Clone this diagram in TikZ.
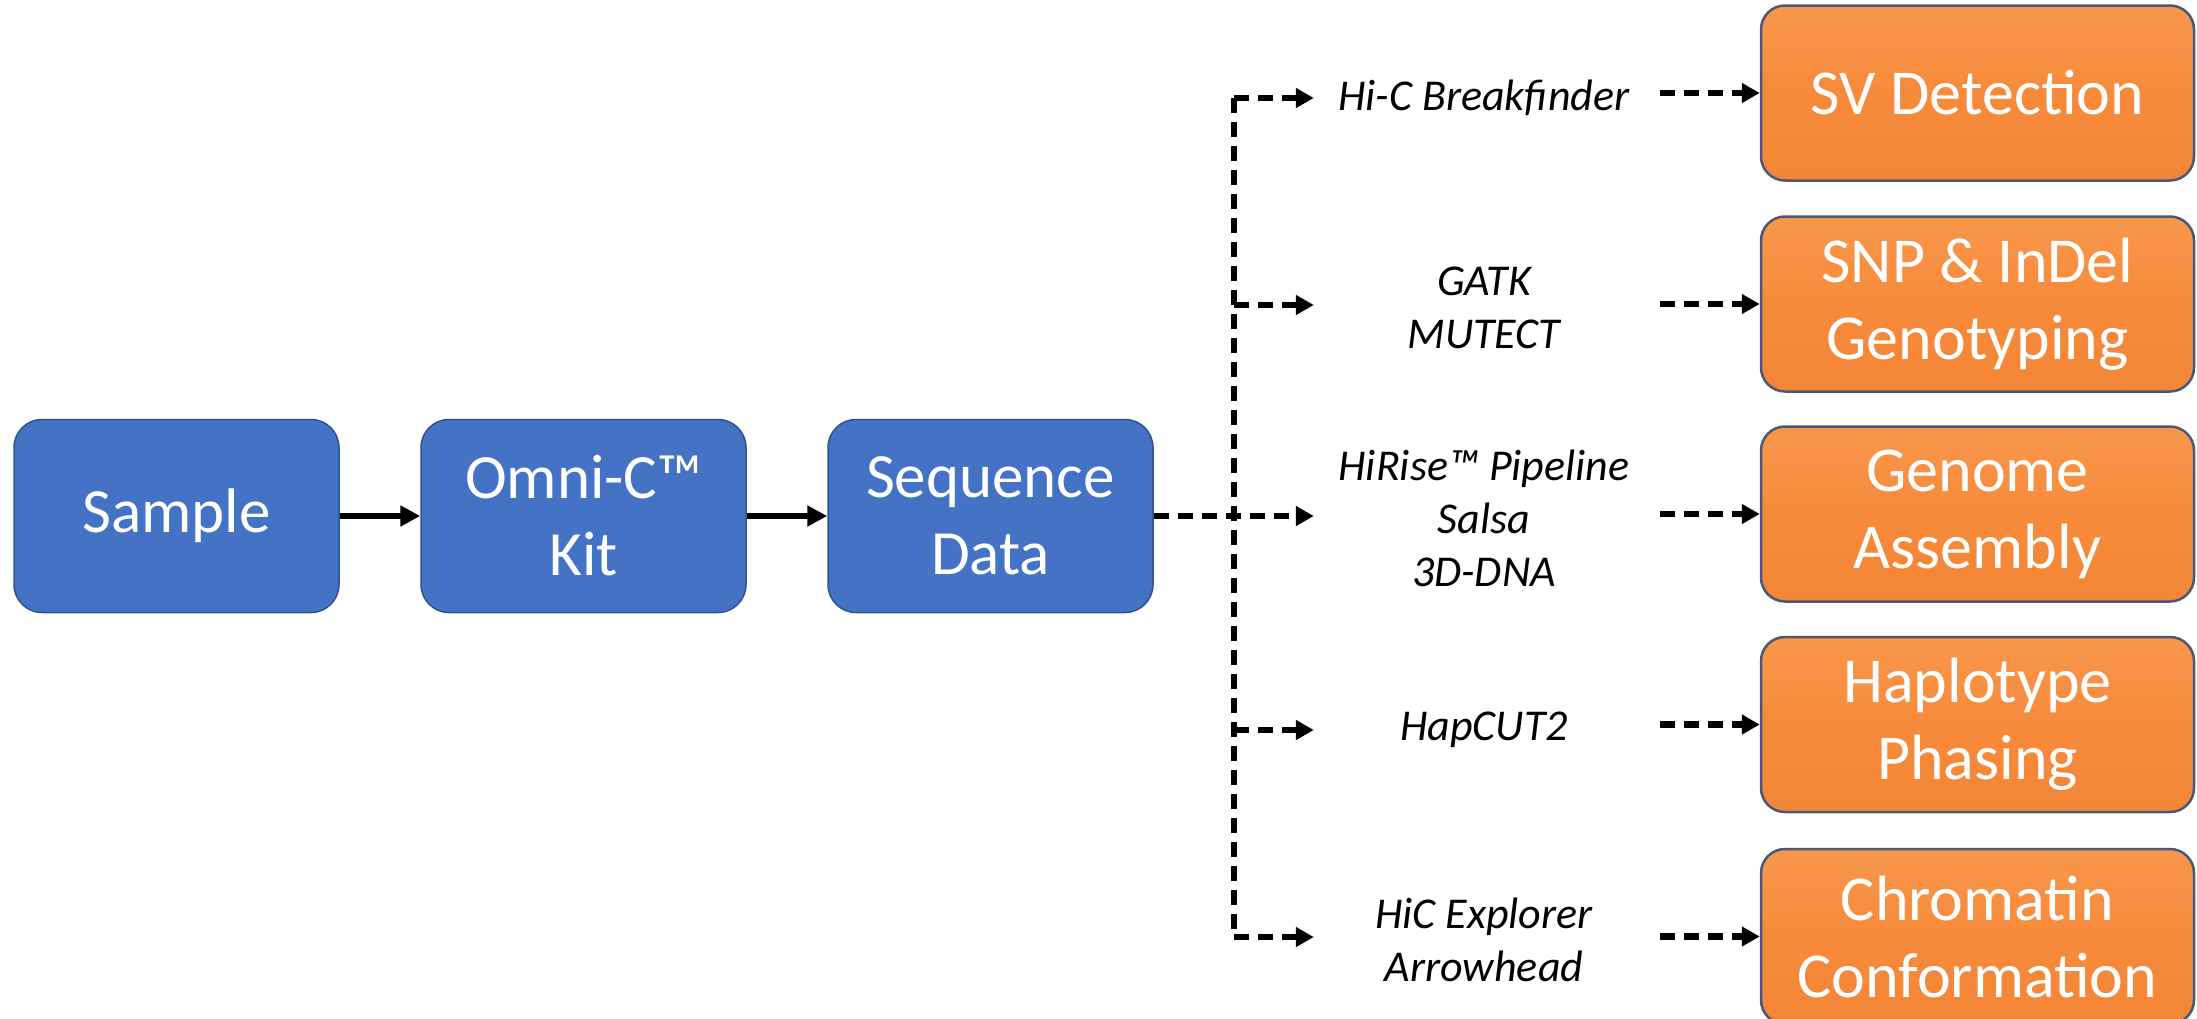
\documentclass[tikz,border=0pt]{standalone}
\usepackage{fontspec}
\setmainfont{Carlito}
\usetikzlibrary{arrows.meta}
\definecolor{bluefill}{HTML}{4472C4}
\definecolor{blueedge}{HTML}{2F528F}
\definecolor{orangefill}{HTML}{F78A3B}
\definecolor{orangetop}{HTML}{F8974C}
\definecolor{orangebot}{HTML}{F28536}
\definecolor{orangeedge}{HTML}{4A5878}
\begin{document}
\begin{tikzpicture}[x=1pt,y=-1pt,
  bluebox/.style={draw=blueedge, line width=1.5pt, fill=bluefill, rounded corners=28pt,
    minimum width=325pt, minimum height=193pt, text=white, inner sep=0pt,
    font=\fontsize{63}{77}\selectfont, align=center},
  orangebox/.style={draw=orangeedge, line width=2.5pt, top color=orangetop, bottom color=orangebot,
    middle color=orangefill, rounded corners=24pt,
    minimum width=433pt, minimum height=175pt, text=white, inner sep=0pt,
    font=\fontsize{64}{77}\selectfont, align=center},
  tool/.style={font=\itshape\fontsize{44}{53}\selectfont, align=center,
    minimum width=340pt, inner sep=0pt},
  solidarrow/.style={line width=6.5pt, -{Triangle[length=20pt,width=20pt]}},
  dasharrow/.style={line width=6.5pt, dash pattern=on 15pt off 9pt, -{Triangle[length=18pt,width=19pt]}},
  dashline/.style={line width=6.5pt, dash pattern=on 15pt off 9pt}]
\useasboundingbox (0,0) rectangle (2197,1018);
\clip (0,0) rectangle (2197,1018);

% blue pipeline
\node[bluebox] (sample) at (176.5,516) {Sample};
\node[bluebox] (kit) at (583.5,516) {Omni-C™\\Kit};
\node[bluebox] (seq) at (990.5,516) {Sequence\\Data};

% orange outcome boxes
\node[orangebox] (sv) at (1977.5,93) {SV Detection};
\node[orangebox] (snp) at (1977.5,304) {SNP \& InDel\\Genotyping};
\node[orangebox] (asm) at (1977.5,514) {Genome\\Assembly};
\node[orangebox] (hap) at (1977.5,724.5) {Haplotype\\Phasing};
\node[orangebox] (chr) at (1977.5,936.5) {Chromatin\\Conformation};

% tools
\node[tool] (t1) at (1484,98) {Hi-C Breakfinder};
\node[tool] (t2) at (1484,308) {GATK\\MUTECT};
\node[tool] (t3) at (1484,518) {HiRise™ Pipeline\\Salsa\\3D-DNA};
\node[tool] (t4) at (1484,730) {HapCUT2};
\node[tool] (t5) at (1484,940) {HiC Explorer\\Arrowhead};

% trunk coordinates
\coordinate (b1) at (1234,98);
\coordinate (b2) at (1234,305);
\coordinate (b4) at (1234,730);
\coordinate (b5) at (1234,937);

% solid arrows
\draw[solidarrow] (sample.east) -- (kit.west);
\draw[solidarrow] (kit.east) -- (seq.west);

% dashed trunk and branches
\draw[dashline] (b1) -- (b5);
\draw[dasharrow] (seq.east) -- (t3.west|-seq.east);
\draw[dasharrow] (b1) -- (t1.west|-b1);
\draw[dasharrow] (b2) -- (t2.west|-b2);
\draw[dasharrow] (b4) -- (t4.west|-b4);
\draw[dasharrow] (b5) -- (t5.west|-b5);

% tools to outcomes
\draw[dasharrow] ([xshift=6pt]t1.east|-sv.west) -- (sv.west);
\draw[dasharrow] ([xshift=6pt]t2.east|-snp.west) -- (snp.west);
\draw[dasharrow] ([xshift=6pt]t3.east|-asm.west) -- (asm.west);
\draw[dasharrow] ([xshift=6pt]t4.east|-hap.west) -- (hap.west);
\draw[dasharrow] ([xshift=6pt]t5.east|-chr.west) -- (chr.west);
\end{tikzpicture}
\end{document}
